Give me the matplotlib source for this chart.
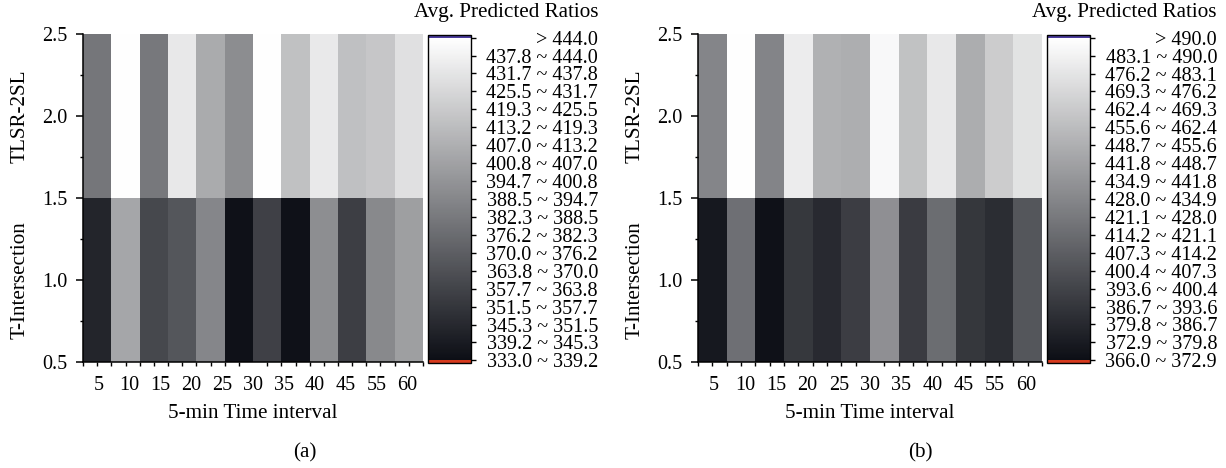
import numpy as np
import matplotlib
matplotlib.use('Agg')
import matplotlib.pyplot as plt
from matplotlib.colors import LinearSegmentedColormap, Normalize
import matplotlib.transforms as mtransforms

plt.rcParams['font.family'] = ['Liberation Serif', 'DejaVu Serif']

# ---------------- data ----------------
x_labels = ['5', '10', '15', '20', '25', '30', '35', '40', '45', '55', '60']
row_labels = ['T-Intersection', 'TLSR-2SL']

# panel (a)
a_tlsr = [381.0, 443.5, 381.9, 433.5, 405.2, 391.5, 443.5, 415.2, 433.9, 414.8, 417.9, 429.4]
a_tint = [343.5, 402.9, 359.5, 366.3, 388.3, 334.4, 356.3, 334.4, 391.9, 355.4, 389.6, 399.7]
a_levels = [333.0, 339.2, 345.3, 351.5, 357.7, 363.8, 370.0, 376.2, 382.3, 388.5,
            394.7, 400.8, 407.0, 413.2, 419.3, 425.5, 431.7, 437.8, 444.0]

# panel (b)
b_tlsr = [427.2, 489.5, 426.8, 480.3, 449.7, 448.2, 486.4, 458.4, 478.3, 447.6, 463.5, 475.2]
b_tint = [371.6, 416.0, 367.5, 387.4, 380.3, 390.5, 432.8, 389.5, 414.5, 386.9, 382.3, 403.2]
b_levels = [366.0, 372.9, 379.8, 386.7, 393.6, 400.4, 407.3, 414.2, 421.1, 428.0,
            434.9, 441.8, 448.7, 455.6, 462.4, 469.3, 476.2, 483.1, 490.0]

# ---------------- style ----------------
W, H = 1226, 468
FS = 14.5
FSL = 15.2
cmap = LinearSegmentedColormap.from_list('gr', ['#0c0e15', '#ffffff'])
cmap.set_under('#d63a1e')
cmap.set_over('#4b3c9e')

fig = plt.figure(figsize=(W / 100, H / 100), dpi=100)


def fx(px):
    return px / W


def fy(py):
    return 1 - py / H


def panel(x0, top_row, bottom_row, levels, tag):
    hm_w = 340 if x0 < 600 else 344
    ax = fig.add_axes([fx(x0), fy(362), fx(hm_w), (362 - 34) / H])
    cb_left = x0 + hm_w + 5
    cax = fig.add_axes([fx(cb_left), fy(363), fx(43), (363 - 35) / H])

    data = np.array([bottom_row, top_row])
    n = data.shape[1]
    xe = np.arange(n + 1)
    ye = np.array([0.5, 1.5, 2.5])
    norm = Normalize(levels[0], levels[-1])
    m = ax.pcolormesh(xe, ye, data, cmap=cmap, norm=norm, shading='flat')
    ax.set_xlim(0, n)
    ax.set_ylim(0.5, 2.5)
    for s in ['top', 'right']:
        ax.spines[s].set_visible(False)
    for s in ['left', 'bottom']:
        ax.spines[s].set_linewidth(1.1)

    ax.set_xticks((np.arange(len(x_labels)) + 0.5) * n / len(x_labels), x_labels)
    ax.set_xticks(np.arange(0, n + 0.01, 0.5), minor=True)
    ax.tick_params(axis='x', which='major', length=0, pad=10, labelsize=FS)
    ax.tick_params(axis='x', which='minor', length=3.2, width=1.0, direction='out')
    ax.set_yticks([0.5, 1.0, 1.5, 2.0, 2.5], ['0.5', '1.0', '1.5', '2.0', '2.5'])
    ax.set_yticks([0.75, 1.25, 1.75, 2.25], minor=True)
    ax.tick_params(axis='y', which='major', length=5, width=1.1, pad=6, labelsize=FS)
    ax.tick_params(axis='y', which='minor', length=2.5, width=1.0)

    tr = mtransforms.blended_transform_factory(fig.transFigure, ax.transData)
    for yv, lab in zip([1.0, 2.0], row_labels):
        ax.text(fx(x0 - 63), yv, lab, rotation=90, ha='center', va='center',
                fontsize=FSL, transform=tr)

    fig.text(fx(x0 + hm_w / 2), fy(413), '5-min Time interval', ha='center',
             va='center', fontsize=FSL)
    fig.text(fx(x0 + 222), fy(453), tag, ha='center', va='center', fontsize=FSL)

    cb = fig.colorbar(m, cax=cax, extend='both', extendrect=True, extendfrac=0.008)
    cb.outline.set_linewidth(1.0)
    cb.minorticks_off()
    labs = [f'{levels[i]:.1f} ~ {levels[i + 1]:.1f}' for i in range(len(levels) - 1)]
    labs.append(f'> {levels[-1]:.1f}')
    cb.set_ticks(levels)
    cb.set_ticklabels(labs)
    label_right = cb_left + 43 + 127
    tick_len_px = 5
    pad_px = label_right - (cb_left + 43) - tick_len_px
    cax.tick_params(axis='y', length=tick_len_px * 0.72, width=1.0,
                    pad=pad_px * 0.72, labelsize=FS)
    for t in cax.get_yticklabels():
        t.set_horizontalalignment('right')

    fig.text(fx(label_right), fy(12.7), 'Avg. Predicted Ratios', ha='right',
             va='center', fontsize=FSL)


panel(83, a_tlsr, a_tint, a_levels, '(a)')
panel(698, b_tlsr, b_tint, b_levels, '(b)')

fig.savefig('out.png', dpi=100)
